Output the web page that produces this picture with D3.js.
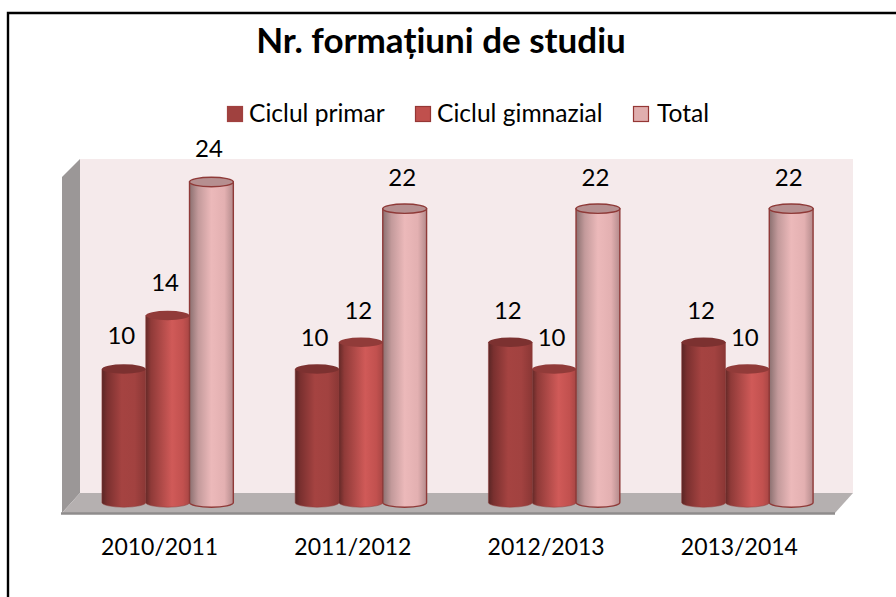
<!DOCTYPE html>
<html>
<head>
<meta charset="utf-8">
<script src="https://cdn.jsdelivr.net/npm/d3@7"></script>
<style>
    html, body { margin: 0; padding: 0; background: #fff; }
    svg { display: block; font-family: Lato, "Liberation Sans", sans-serif; }
</style>
</head>
<body>
<div id="chart"></div>
<script>
const years = ["2010/2011", "2011/2012", "2012/2013", "2013/2014"];
const seriesNames = ["Ciclul primar", "Ciclul gimnazial", "Total"];
const primar = [10, 10, 12, 12];
const gimnazial = [14, 12, 10, 10];
const total = [24, 22, 22, 22];
const seriesValues = [primar, gimnazial, total];

const width = 896;
const height = 597;

const svg = d3.select("#chart").append("svg")
    .attr("width", width)
    .attr("height", height);

const defs = svg.append("defs");

const barStyles = [
    {
        stops: [[0, "#5a2625"], [0.12, "#7a302f"], [0.45, "#a54341"], [0.75, "#a24240"], [1, "#8a3735"]],
        top: "#7c3130", stroke: "none", swatch: "#a0413f", swatchStroke: "#a0413f"
    },
    {
        stops: [[0, "#642927"], [0.12, "#8f3a38"], [0.6, "#d05a58"], [0.85, "#c2514f"], [1, "#a84644"]],
        top: "#913b39", stroke: "none", swatch: "#c0504d", swatchStroke: "#953735"
    },
    {
        stops: [[0, "#8b7070"], [0.2, "#c39a9b"], [0.5, "#ecb9ba"], [0.8, "#e3b0b1"], [1, "#b48b8c"]],
        top: "#b68f90", stroke: "#8f3a38", swatch: "#e0aeae", swatchStroke: "#953735"
    }
];

barStyles.forEach((s, i) => {
    const grad = defs.append("linearGradient").attr("id", "bar" + i);
    grad.selectAll("stop")
        .data(s.stops)
        .join("stop")
        .attr("offset", d => d[0])
        .attr("stop-color", d => d[1]);
});

// frame, only top and left show in the picture
svg.append("path")
    .attr("d", "M8,597V13H896")
    .attr("fill", "none")
    .attr("stroke", "#000")
    .attr("stroke-width", 2.4);

// 3d box behind the bars
svg.append("rect").attr("x", 80).attr("y", 159).attr("width", 773).attr("height", 334).attr("fill", "#f5eaeb");
svg.append("path").attr("d", "M62,177L80,159V493L62,513Z").attr("fill", "#9b9797");
svg.append("path").attr("d", "M62,513L80,493H853L835,513Z").attr("fill", "#b5b0b0");
svg.append("path").attr("d", "M61,513.5H835").attr("stroke", "#8f8c8c").attr("stroke-width", 2.5);

const x0 = d3.scaleBand()
    .domain(years)
    .range([71, 844])
    .paddingInner(0.32)
    .paddingOuter(0.16);

const x1 = d3.scaleBand()
    .domain(d3.range(seriesNames.length))
    .range([0, x0.bandwidth()]);

const y = d3.scaleLinear()
    .domain([0, 24])
    .range([502.5, 182]);

const ry = 4.7;

const rows = years.flatMap((year, g) => seriesValues.map((vals, s) => ({ year, g, s, value: vals[g] })));

const bars = svg.append("g").selectAll("g")
    .data(rows)
    .join("g")
    .attr("transform", d => `translate(${x0(d.year) + x1(d.s)},0)`);

const bw = x1.bandwidth();

bars.append("path")
    .attr("d", d => `M0,${y(d.value)}V${y(0)}A${bw / 2},${ry} 0 0 0 ${bw},${y(0)}V${y(d.value)}Z`)
    .attr("fill", d => `url(#bar${d.s})`)
    .attr("stroke", "#8f3a38")
    .attr("stroke-width", d => d.s === 2 ? 1.4 : 0.5);

bars.append("ellipse")
    .attr("cx", bw / 2)
    .attr("cy", d => y(d.value))
    .attr("rx", bw / 2)
    .attr("ry", ry)
    .attr("fill", d => barStyles[d.s].top)
    .attr("stroke", d => barStyles[d.s].stroke)
    .attr("stroke-width", 1.4);

// first group labels sit a bit higher in the original
bars.append("text")
    .attr("x", bw / 2 - 2.5)
    .attr("y", d => y(d.value) - (d.g === 0 ? 25 : 23))
    .attr("text-anchor", "middle")
    .attr("font-size", 24)
    .attr("fill", "#000")
    .text(d => d.value);

const xAxis = svg.append("g")
    .attr("transform", "translate(-8,521)")
    .call(d3.axisBottom(x0).tickSize(0).tickPadding(18));
xAxis.select(".domain").remove();
xAxis.selectAll("text")
    .attr("font-family", "Lato, sans-serif")
    .attr("font-size", 23)
    .attr("fill", "#000");

svg.append("text")
    .attr("x", 441)
    .attr("y", 53)
    .attr("text-anchor", "middle")
    .attr("font-size", 35)
    .attr("font-weight", 700)
    .attr("fill", "#000")
    .text("Nr. formațiuni de studiu");

const legendX = [227, 415, 633];
const legend = svg.append("g").selectAll("g")
    .data(seriesNames)
    .join("g")
    .attr("transform", (d, i) => `translate(${legendX[i]},106)`);

legend.append("rect")
    .attr("x", 0.5)
    .attr("y", 0.5)
    .attr("width", 15)
    .attr("height", 15)
    .attr("fill", (d, i) => barStyles[i].swatch)
    .attr("stroke", (d, i) => barStyles[i].swatchStroke)
    .attr("stroke-width", 1.2);

legend.append("text")
    .attr("x", (d, i) => i === 2 ? 24 : 22)
    .attr("y", 16)
    .attr("font-size", 24.6)
    .attr("fill", "#000")
    .text(d => d);
</script>
</body>
</html>
